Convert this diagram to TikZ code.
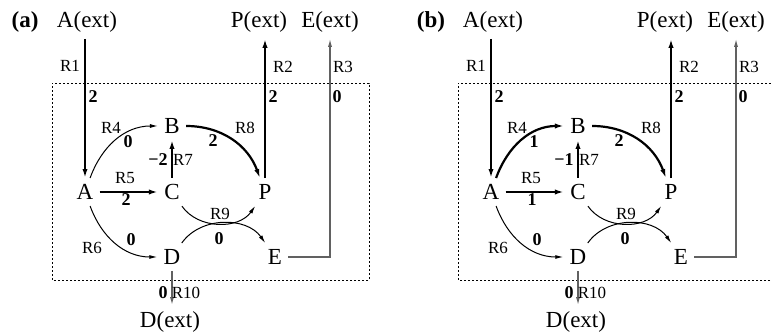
\documentclass[tikz,border=0pt]{standalone}
\usepackage{fontspec}
\setmainfont{Liberation Serif}
\usetikzlibrary{arrows.meta}
\tikzset{
  met/.style={inner sep=3pt,font=\fontsize{11.5}{13}\selectfont},
  tagfont/.style={inner sep=3pt,font=\fontsize{11.5}{13}\selectfont\bfseries},
  rlab/.style={inner sep=0pt,font=\fontsize{8.5}{10}\selectfont},
  wlab/.style={inner sep=0pt,font=\fontsize{9}{10}\selectfont\bfseries},
  flux/.style={line width=0.5pt,-{Latex[length=4pt,width=2pt]}},
  bigflux/.style={line width=1.1pt,-{Latex[length=4.5pt,width=2.6pt]}},
  extflux/.style={line width=0.6pt,draw=black!62,-{Latex[length=4pt,width=2pt]}},
  cellbox/.style={line width=0.4pt,dash pattern=on 1pt off 1pt}
}
% one panel: prefix, x shift, R4 style, R4/R5/R7 values
\newcommand{\fluxnet}[6]{%
  \begin{scope}[shift={(#2,0)}]
    \draw[cellbox] (52,56) rectangle (369,253);
    \node[tagfont] (#1tag) at (25,314) {(#1)};
    \node[met] (#1A) at (85,144) {A};
    \node[met] (#1B) at (172,210) {B};
    \node[met] (#1C) at (172,144) {C};
    \node[met] (#1P) at (265,144) {P};
    \node[met] (#1D) at (172,79) {D};
    \node[met] (#1E) at (275,79) {E};
    \node[met] (#1Aext) at (87,314) {A(ext)};
    \node[met] (#1Pext) at (259,314) {P(ext)};
    \node[met] (#1Eext) at (330,314) {E(ext)};
    \node[met] (#1Dext) at (170,14) {D(ext)};
    % exchange fluxes
    \draw[bigflux] (#1A.north |- #1Aext.south) -- (#1A);
    \draw[bigflux] (#1P) -- (#1P |- #1Pext.south);
    \draw[extflux] (#1E) -| (#1Eext.south);
    \draw[extflux] (#1D) -- (#1D |- #1Dext.north);
    % internal fluxes
    \draw[#3] (#1A) to[out=70,in=180] (#1B);
    \draw[bigflux] (#1A) -- (#1C);
    \draw[flux] (#1A) to[out=-70,in=180] (#1D);
    \draw[bigflux] (#1C) -- (#1B);
    \draw[bigflux] (#1B) to[out=0,in=110] (#1P);
    \draw[flux] (#1C) to[out=-55,in=-125] (#1P);
    \draw[flux] (#1D) to[out=55,in=125] (#1E);
    % labels
    \node[rlab] (#1R1) at (70,270) {R1};
    \node[wlab] (#1w1) at (93,239) {2};
    \node[rlab] (#1R2) at (283,269) {R2};
    \node[wlab] (#1w2) at (273,239) {2};
    \node[rlab] (#1R3) at (343,269) {R3};
    \node[wlab] (#1w3) at (337,239) {0};
    \node[rlab] (#1R4) at (111,208) {R4};
    \node[wlab] (#1w4) at (128,194) {#4};
    \node[rlab] (#1R8) at (245,208) {R8};
    \node[wlab] (#1w8) at (213,195) {2};
    \node[wlab] (#1w7) at (158,176) {#6};
    \node[rlab] (#1R7) at (183,176) {R7};
    \node[rlab] (#1R5) at (125,158) {R5};
    \node[wlab] (#1w5) at (126,136) {#5};
    \node[rlab] (#1R9) at (220,122) {R9};
    \node[wlab] (#1w9) at (219,97) {0};
    \node[rlab] (#1R6) at (92,88) {R6};
    \node[wlab] (#1w6) at (131,96) {0};
    \node[wlab] (#1w10) at (163,43) {0};
    \node[rlab] (#1R10) at (186,43) {R10};
  \end{scope}}

\begin{document}
\begin{tikzpicture}[x=0.5pt,y=0.5pt]
  \clip (0,0) rectangle (772,336);
  \fluxnet{a}{0}{flux}{0}{2}{−2}
  \fluxnet{b}{406}{bigflux}{1}{1}{−1}
\end{tikzpicture}
\end{document}
